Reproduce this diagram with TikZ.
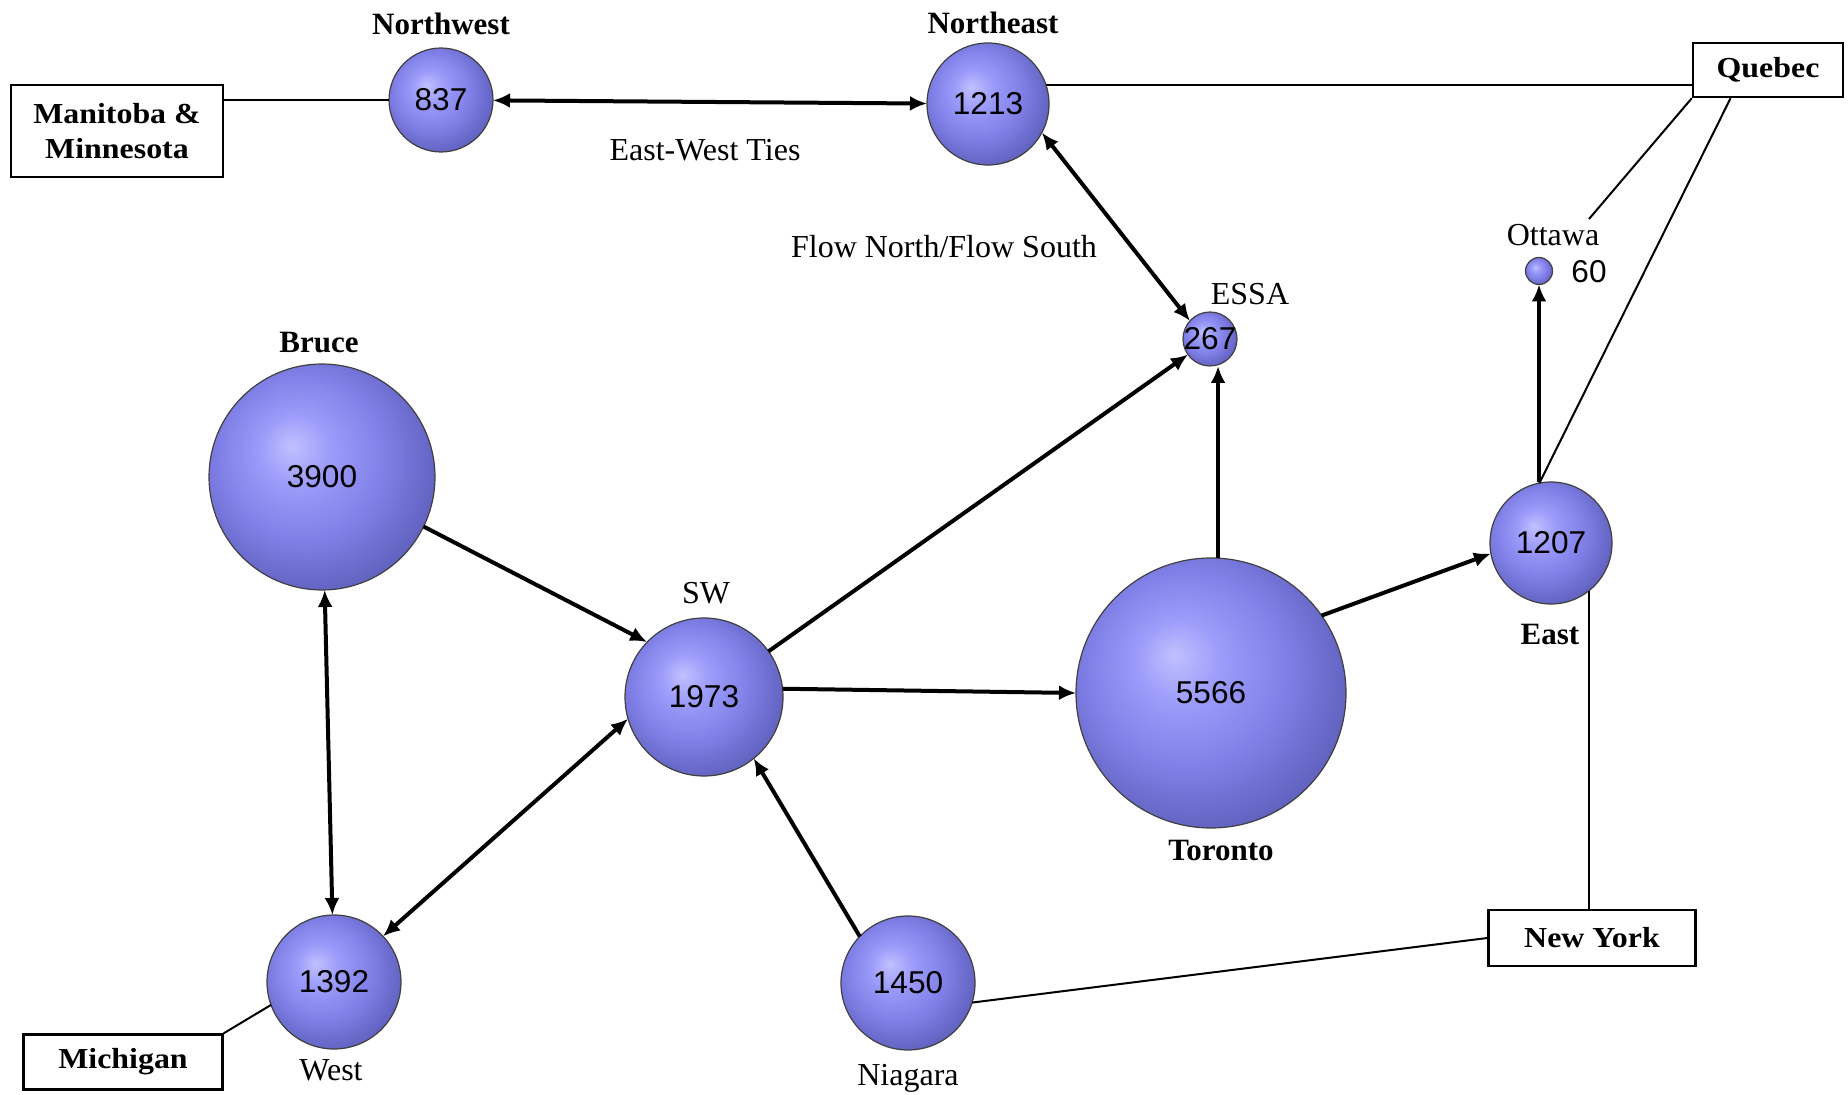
\documentclass[tikz,border=0pt]{standalone}
\usepackage{fontspec}
\usetikzlibrary{arrows.meta}
\newfontfamily\lblfont{Liberation Serif}
\newfontfamily\boxfont[FakeStretch=1.1]{Liberation Serif}
\newfontfamily\numfont{Liberation Sans}
\definecolor{ballhi}{RGB}{192,192,255}
\definecolor{ballmid}{RGB}{155,155,250}
\definecolor{balllow}{RGB}{128,128,232}
\definecolor{balldark}{RGB}{100,100,195}
\definecolor{balledge}{RGB}{82,82,160}
\pgfdeclareradialshading{sphere}{\pgfpoint{-7bp}{7bp}}{color(0bp)=(ballhi); color(8bp)=(ballmid); color(18bp)=(balllow); color(28bp)=(balldark); color(36bp)=(balledge); color(50bp)=(balledge)}
\tikzset{every picture/.style={line width=0.75pt}}
\tikzset{
  zone/.style={circle, inner sep=0pt, outer sep=0pt, draw=black!75, line width=0.6pt, shading=sphere},
  num/.style={font=\numfont\fontsize{15.8}{18}\selectfont, inner sep=0.75pt},
  tag/.style={font=\lblfont\fontsize{16}{19}\selectfont, inner sep=0.75pt},
  tagb/.style={font=\lblfont\bfseries\fontsize{15.5}{18}\selectfont, inner sep=0.75pt},
  region/.style={draw, line width=1.2pt, fill=white, inner sep=0pt, align=center, font=\boxfont\bfseries\fontsize{14.5}{17.6}\selectfont},
  flow/.style={line width=2pt, -{Latex[length=8.5pt,width=7.5pt]}},
  flowboth/.style={line width=2pt, {Latex[length=8.5pt,width=7.5pt]}-{Latex[length=8.5pt,width=7.5pt]}},
  tie/.style={line width=1pt}
}
\begin{document}
\begin{tikzpicture}[x=0.5pt,y=0.5pt,yscale=-1,xscale=1]
\path[use as bounding box] (0,0) rectangle (1848,1095);

%Shape: Circle
\node [zone, minimum size=52pt] (nw) at (441,100) {};
\node [zone, minimum size=61pt] (ne) at (988,104) {};
\node [zone, minimum size=27pt] (essa) at (1210,339) {};
\node [zone, minimum size=13.5pt] (ott) at (1539,271) {};
\node [zone, minimum size=113pt] (bruce) at (322,477) {};
\node [zone, minimum size=79pt] (sw) at (704,697) {};
\node [zone, minimum size=135pt] (tor) at (1211,693) {};
\node [zone, minimum size=61pt] (east) at (1551,543) {};
\node [zone, minimum size=67pt] (west) at (334,982) {};
\node [zone, minimum size=67pt] (nia) at (908,983) {};

%Shape: Rectangle
\node [region, minimum width=106pt, minimum height=46pt] (mm) at (117,131) {Manitoba \&\\Minnesota};
\node [region, minimum width=75pt, minimum height=27pt] (qc) at (1768,70) {Quebec};
\node [region, minimum width=103.5pt, minimum height=28pt] (ny) at (1592,938) {New York};
\node [region, minimum width=99.5pt, minimum height=27.5pt] (mi) at (123,1062) {Michigan};

\coordinate (ottq) at (1589,219);

%Straight Lines
\draw [tie] (nw.west) -- (mm.east |- nw.west);
\draw [tie] (ne.18) -- (qc.west |- ne.18);
\draw [tie] (qc.south west) -- (ottq);
\draw [tie] (qc.-143) -- (east.101);
\draw [tie] (east.-52) -- (east.-52 |- ny.north);
\draw [tie] (nia.-17) -- (ny.west);
\draw [tie] (west.200) -- (mi.north east);

%Arrows
\draw [flowboth] (nw) -- (ne);
\draw [flowboth] (ne.-28) -- (essa.138);
\draw [flow] (sw) -- (essa);
\draw [flow] (tor.87) -- (tor.87 |- essa.south);
\draw [flow] (tor.35) -- (east.190);
\draw [flow] (east.north -| ott) -- (ott.south);
\draw [flow] (sw.6) -- (tor.west);
\draw [flow] (bruce.-26) -- (sw.136);
\draw [flowboth] (bruce) -- (west);
\draw [flowboth] (sw.196) -- (west.43);
\draw [flow] (nia.136) -- (sw.-51);

% Text Node
\node [num] (nwv) at (nw) {837};
\node [num] (nev) at (ne) {1213};
\node [num] (essav) at (essa) {267};
\node [num] (brucev) at (bruce) {3900};
\node [num] (swv) at (sw) {1973};
\node [num] (torv) at (tor) {5566};
\node [num] (eastv) at (east) {1207};
\node [num] (westv) at (west) {1392};
\node [num] (niav) at (nia) {1450};
\node [num] (ottv) at (1589,272) {60};
% Text Node
\node [tagb] (nwl) at (441,24) {Northwest};
\node [tagb] (nel) at (993,23) {Northeast};
\node [tag] (essal) at (1250,294) {ESSA};
\node [tag] (ottl) at (1553,235) {Ottawa};
\node [tagb] (brucel) at (319,343) {Bruce};
\node [tag] (swl) at (706,593) {SW};
\node [tagb] (eastl) at (1550,635) {East};
\node [tagb] (torl) at (1221,851) {Toronto};
\node [tag] (westl) at (331,1070) {West};
\node [tag] (nial) at (908,1078) {Niagara};
\node [tag] (ewt) at (705,150) {East-West Ties};
\node [tag] (fns) at (944,247) {Flow North/Flow South};

\end{tikzpicture}
\end{document}
